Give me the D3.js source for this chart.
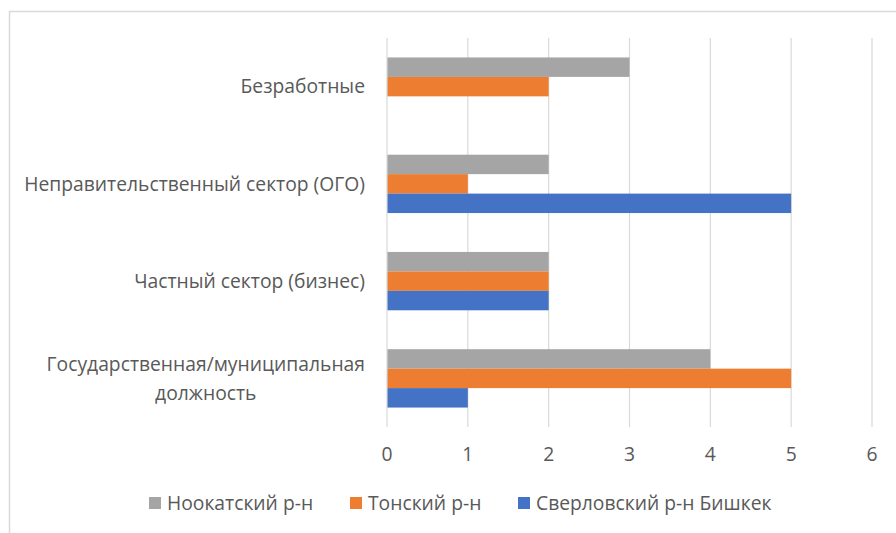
<!DOCTYPE html>
<html lang="ru">
<head>
<meta charset="UTF-8">
<title>chart</title>
<script src="https://d3js.org/d3.v7.min.js"></script>
<style>
  body { margin: 0; background: #fff; }
  text { font-family: "Open Sans", Lato, sans-serif; fill: #595959; }
</style>
</head>
<body>
<div id="chart"></div>
<script>
// categories, top to bottom
const categories = [
  ["Безработные"],
  ["Неправительственный сектор (ОГО)"],
  ["Частный сектор (бизнес)"],
  ["Государственная/муниципальная", "должность"]
];
const seriesNames = ["Ноокатский р-н", "Тонский р-н", "Сверловский р-н Бишкек"];
const seriesColors = ["#a5a5a5", "#ed7d31", "#4472c4"];
// values per series, in category order
const nookat = [3, 2, 2, 4];
const tonsky = [2, 1, 2, 5];
const sverdlovsky = [0, 5, 2, 1];
const xTicks = [0, 1, 2, 3, 4, 5, 6];

const seriesValues = [nookat, tonsky, sverdlovsky];
const width = 896, height = 533;
const margin = {top: 38, left: 387, right: 24, bottom: 106};
const fontSize = "19.3px";

const svg = d3.select("#chart").append("svg")
  .attr("width", width).attr("height", height);

// chart border (continues beyond the cropped edges)
svg.append("rect")
  .attr("x", 9.5).attr("y", 11.5)
  .attr("width", width + 10).attr("height", height + 10)
  .attr("fill", "none").attr("stroke", "#d9d9d9").attr("stroke-width", 1.5);

const x = d3.scaleLinear().domain([0, 6]).range([margin.left, 872]);
const y = d3.scaleBand().domain(d3.range(categories.length))
  .range([margin.top, height - margin.bottom]).paddingInner(0.4).paddingOuter(0.2);
const ySub = d3.scaleBand().domain(d3.range(seriesNames.length)).range([0, y.bandwidth()]);

// gridlines
svg.append("g").selectAll("line").data(xTicks.slice(1)).join("line")
  .attr("x1", d => x(d)).attr("x2", d => x(d))
  .attr("y1", margin.top).attr("y2", height - margin.bottom)
  .attr("stroke", "#d9d9d9").attr("stroke-width", 1.2);

// bars
const groups = svg.append("g").selectAll("g").data(categories).join("g")
  .attr("transform", (d, i) => `translate(0,${y(i)})`);
groups.selectAll("rect")
  .data((d, i) => seriesValues.map((vals, s) => ({s, v: vals[i]})))
  .join("rect")
  .attr("x", x(0))
  .attr("y", d => ySub(d.s))
  .attr("width", d => x(d.v) - x(0))
  .attr("height", ySub.bandwidth())
  .attr("fill", d => seriesColors[d.s]);

// category axis line
svg.append("line")
  .attr("x1", x(0)).attr("x2", x(0))
  .attr("y1", margin.top).attr("y2", height - margin.bottom)
  .attr("stroke", "#d9d9d9").attr("stroke-width", 1.2);

// category labels
const labelX = 365, lineH = 29;
categories.forEach((lines, i) => {
  const cy = y(i) + y.bandwidth() / 2;
  const t = svg.append("text")
    .attr("x", labelX)
    .attr("y", cy - (lines.length - 1) * lineH / 2)
    .attr("dy", "0.35em")
    .attr("text-anchor", "end")
    .style("font-size", fontSize);
  if (lines.length === 1) {
    t.text(lines[0]);
  } else {
    // multi-line: lines centred on each other, block right-aligned
    const tmp = svg.append("text").style("font-size", fontSize).text(lines[0]);
    const w = tmp.node().getComputedTextLength();
    tmp.remove();
    t.attr("text-anchor", "middle").attr("x", labelX - w / 2);
    lines.forEach((ln, k) => {
      t.append("tspan").attr("x", labelX - w / 2)
        .attr("dy", k === 0 ? "0.35em" : lineH).text(ln);
    });
    t.attr("dy", null);
  }
});

// x tick labels
svg.append("g").selectAll("text").data(xTicks).join("text")
  .attr("x", d => x(d)).attr("y", 454).attr("dy", "0.35em")
  .attr("text-anchor", "middle").style("font-size", fontSize)
  .text(d => d);

// legend
const legendX = [149, 350, 518];
const legend = svg.append("g").selectAll("g").data(seriesNames).join("g")
  .attr("transform", (d, i) => `translate(${legendX[i]},503)`);
legend.append("rect")
  .attr("x", 0).attr("y", -6).attr("width", 12).attr("height", 12)
  .attr("fill", (d, i) => seriesColors[i]);
legend.append("text")
  .attr("x", 18).attr("dy", "0.35em").style("font-size", fontSize)
  .text(d => d);
</script>
</body>
</html>
